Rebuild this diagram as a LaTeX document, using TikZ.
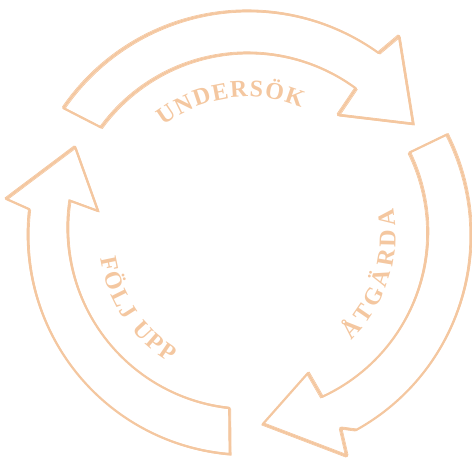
\documentclass[tikz,border=0pt]{standalone}
\usepackage{fontspec}
\setmainfont{Liberation Serif}
\definecolor{peach}{RGB}{244,199,160}
\newcommand\lblfont{\fontsize{24}{24}\selectfont\bfseries}
\newcommand\arrTop{(145.5:224) arc[start angle=145.5, end angle=54.3, radius=224] -- (52.8:249.8) -- (33.9:199) -- (53.1:150) -- (53.6:182) arc[start angle=53.6, end angle=143.8, radius=182] -- cycle}
\newcommand\arrRight{(26.8:223) arc[start angle=26.8, end angle=-61, radius=223] -- (-64.4:214) -- (-65.9:242.2) -- (-85.5:189.6) -- (-66.5:150.5) -- (-65.5:178) arc[start angle=-65.5, end angle=26.1, radius=181] -- cycle}
\newcommand\arrLeft{(173.3:220) arc[start angle=173.3, end angle=265.3, radius=220] -- (263.9:174) arc[start angle=263.9, end angle=171.3, radius=181] -- (170.9:151.9) -- (153:194.1) -- (171.5:244.7) -- cycle}
\tikzset{
  arrowline/.style={draw=peach, line width=2.2pt, line join=round, line cap=round},
  sketchline/.style={draw=peach, line width=0.7pt, line join=round},
  lbltxt/.style={font=\lblfont, text=peach, anchor=base, inner sep=0pt}
}
\begin{document}
\begin{tikzpicture}[x=1pt,y=1pt]
\useasboundingbox (0,0) rectangle (472,460);
\begin{scope}[shift={(248,225)}]
  \draw[arrowline] \arrTop;
  \draw[sketchline, xshift=1.3pt, yshift=-1pt] \arrTop;
  \draw[sketchline, xshift=-1pt, yshift=1.2pt] \arrTop;
  \draw[arrowline] \arrRight;
  \draw[sketchline, xshift=1.2pt, yshift=1pt] \arrRight;
  \draw[sketchline, xshift=-1.2pt, yshift=-1pt] \arrRight;
  \draw[arrowline] \arrLeft;
  \draw[sketchline, xshift=1.2pt, yshift=-1pt] \arrLeft;
  \draw[sketchline, xshift=-1pt, yshift=1pt] \arrLeft;
  \foreach \ch/\ang [count=\i] in {U/124.1, N/116.3, D/108.6, E/101.1, R/93.6, S/86.7, Ö/79.4, K/71.2}
    \node[lbltxt, rotate=\ang-90] (u\i) at (\ang:138) {\ch};
  \foreach \ch/\ang [count=\i] in {Å/-42.3, T/-34.3, G/-26.1, Ä/-17.7, R/-9.5, D/-1.3, A/6.9}
    \node[lbltxt, rotate=\ang+90] (a\i) at (\ang:147.5) {\ch};
  \foreach \ch/\ang [count=\i] in {F/191.7, Ö/198.9, L/206.3, J/212.5, U/222.3, P/229.2, P/235.7}
    \node[lbltxt, rotate=\ang+90] (f\i) at (\ang:149.5) {\ch};
\end{scope}
\end{tikzpicture}
\end{document}
